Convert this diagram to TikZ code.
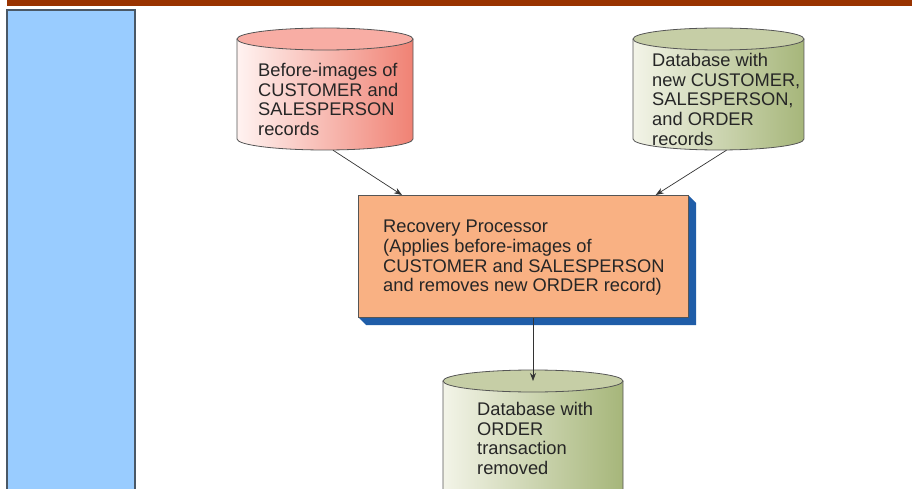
\documentclass[tikz,border=0pt]{standalone}
\usepackage{fontspec}
\setmainfont{Liberation Sans}
\usetikzlibrary{arrows.meta,calc}

\definecolor{barbrown}{HTML}{993300}
\definecolor{panelblue}{HTML}{99CCFF}
\definecolor{panelrim}{HTML}{4A5866}
\definecolor{pinklight}{HTML}{FFF3F1}
\definecolor{pinkdark}{HTML}{F08274}
\definecolor{pinklid}{HTML}{F8ADA4}
\definecolor{greenlight}{HTML}{F3F4E8}
\definecolor{greendark}{HTML}{A6B67A}
\definecolor{greenlid}{HTML}{C6CEA6}
\definecolor{peach}{HTML}{F9B183}
\definecolor{shadowblue}{HTML}{1F5DA8}
\definecolor{rimgray}{HTML}{555555}
\definecolor{linegray}{HTML}{333333}

\tikzset{
  drumline/.style={draw=rimgray, line width=0.8pt},
  drumtext/.style={inner sep=0pt, align=left, anchor=north west,
    font=\fontsize{18.3}{19.7}\selectfont, text=black!85},
  procbox/.style={draw=rimgray, line width=0.8pt, fill=peach, inner sep=0pt,
    minimum width=330pt, minimum height=122pt, anchor=north west},
  conn/.style={draw=linegray, line width=0.7pt, -{Stealth[length=8pt,width=6pt]}}
}

% database drum: name, left x, right x, top y, bottom y, body left/right colours, lid colour
\newcommand\dbdrum[8]{%
  \pgfmathsetmacro\drumrx{(#3-#2)/2}%
  \pgfmathsetmacro\drumcx{(#2+#3)/2}%
  \pgfmathsetmacro\drumcy{-(#4+#5)/2}%
  \pgfmathsetmacro\drumh{#5-#4}%
  \shade[left color=#6, right color=#7]
    (#2,-#4-11) -- (#2,-#5+11)
    arc[start angle=180, end angle=360, x radius=\drumrx, y radius=11]
    -- (#3,-#4-11) -- cycle;
  \draw[drumline] (#2,-#4-11) -- (#2,-#5+11)
    arc[start angle=180, end angle=360, x radius=\drumrx, y radius=11]
    -- (#3,-#4-11);
  \filldraw[drumline, fill=#8] (\drumcx,-#4-11) ellipse[x radius=\drumrx, y radius=11];
  \node[inner sep=0pt, minimum width=2*\drumrx pt, minimum height=\drumh pt]
    (#1) at (\drumcx,\drumcy) {};
  \coordinate (#1-lid) at (\drumcx,-#4-11);
}

\begin{document}
\begin{tikzpicture}[x=1pt, y=1pt]
\useasboundingbox (0,0) rectangle (912,-489);
\clip (0,0) rectangle (912,-489);

% page frame: title bar and side panel
\fill[barbrown] (7,0) rectangle (912,-6);
\draw[panelrim, line width=1.5pt, fill=panelblue] (7,-10) rectangle (135,-500);

% databases
\dbdrum{before}{237}{413}{28}{150}{pinklight}{pinkdark}{pinklid}
\dbdrum{newdb}{633}{804}{28}{150}{greenlight}{greendark}{greenlid}
\dbdrum{result}{443}{623}{370}{530}{greenlight}{greendark}{greenlid}

\node[drumtext] (beforetext) at (258,-63)
  {Before-images of\\CUSTOMER and\\SALESPERSON\\records};
\node[drumtext] (newdbtext) at (652,-53)
  {Database with\\new CUSTOMER,\\SALESPERSON,\\and ORDER\\records};
\node[drumtext] (resulttext) at (477,-402)
  {Database with\\ORDER\\transaction\\removed};

% recovery processor with its drop shadow
\fill[shadowblue] (688,-195) -- (696,-203) -- (696,-325) -- (366,-325)
  -- (358,-317) -- (688,-317) -- cycle;
\node[procbox] (proc) at (358,-195) {};
\node[drumtext] (proctext) at (383,-220)
  {Recovery Processor\\(Applies before-images of\\CUSTOMER and SALESPERSON\\and removes new ORDER record)};

% connectors
\draw[conn] ($(before.south)+(8,0)$) -- ($(proc.north west)!0.133!(proc.north east)$);
\draw[conn] ($(newdb.south)+(8,0)$) -- ($(proc.north west)!0.9!(proc.north east)$);
\draw[conn] (proc.south -| result-lid) -- (result-lid);
\end{tikzpicture}
\end{document}
